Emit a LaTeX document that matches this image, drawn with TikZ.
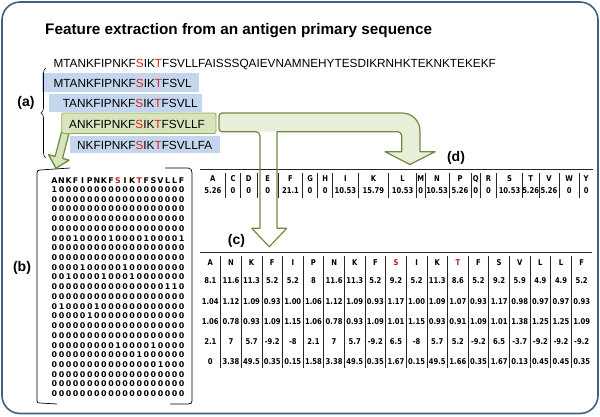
\documentclass[tikz,border=0pt]{standalone}
\usepackage{fontspec}
\setmainfont{Liberation Sans}
\newfontfamily\tabfont{DejaVu Sans}[FakeStretch=0.85]
\newfontfamily\matfont{DejaVu Sans}
\usetikzlibrary{decorations.pathreplacing}
\definecolor{framec}{HTML}{3F5F80}
\definecolor{rowblue}{HTML}{C3D6EE}
\definecolor{wingreen}{HTML}{D7E4BD}
\definecolor{winedge}{HTML}{8FAE52}
\definecolor{arrfill}{HTML}{E8EED9}
\definecolor{arredge}{HTML}{6E8B3D}
\definecolor{seqred}{HTML}{E0201B}
\definecolor{tabred}{HTML}{B22222}
\newcommand\matcw{7.07pt}
\newcommand\mrow[1]{\mrowa#1\relax}
\def\mrowa#1{\ifx\relax#1\else\makebox[\matcw]{#1}\expandafter\mrowa\fi}
\begin{document}
\begin{tikzpicture}[x=1pt,y=-1pt,
  seqtxt/.style={font=\fontsize{11.8}{12}\selectfont, inner sep=0, anchor=base west},
  lbl/.style={font=\bfseries\fontsize{14}{14}\selectfont, inner sep=0},
  tabtxt/.style={font=\tabfont\bfseries\fontsize{8}{8}\selectfont, inner sep=0, anchor=base},
  mattxt/.style={font=\matfont\bfseries\fontsize{7.9}{8}\selectfont, inner sep=0, anchor=base west},
  tabline/.style={draw=black!85, line width=0.7pt},
  bigarrow/.style={draw=arredge, line width=1.2pt, line join=round}]
\useasboundingbox (0,0) rectangle (600,416);
\draw[framec, line width=1.6pt, rounded corners=18pt] (2,2) rectangle (598,413.5);

\node[anchor=base west, inner sep=0, font=\bfseries\fontsize{15.3}{16}\selectfont] (title) at (45,34) {Feature extraction from an antigen primary sequence};

\node[seqtxt] (seq) at (53.3,67.5) {MTANKFIPNKF\textcolor{seqred}{S}IK\textcolor{seqred}{T}FSVLLFAISSSQAIEVNAMNEHYTESDIKRNHKTEKNKTEKEKF};

% (b) arrow
\draw[bigarrow, fill=wingreen] (61.5,132) -- (55.1,156.5) -- (48.7,154.8) -- (55.9,168.1) -- (68.9,160.2) -- (62.5,158.5) -- (68.9,134) -- cycle;

% window rows
\fill[rowblue] (41.7,73) rectangle (199,92);
\fill[rowblue] (49,93.5) rectangle (202,112);
\draw[winedge, fill=wingreen, line width=0.8pt, rounded corners=1.5pt] (61.7,113) rectangle (216,133.5);
\fill[rowblue] (70,136) rectangle (220,153);
\node[seqtxt] (w1) at (53.3,87.5) {MTANKFIPNKF\textcolor{seqred}{S}IK\textcolor{seqred}{T}FSVL};
\node[seqtxt] (w2) at (62.7,107.2) {TANKFIPNKF\textcolor{seqred}{S}IK\textcolor{seqred}{T}FSVLL};
\node[seqtxt] (w3) at (69,128.2) {ANKFIPNKF\textcolor{seqred}{S}IK\textcolor{seqred}{T}FSVLLF};
\node[seqtxt] (w4) at (77,149.2) {NKFIPNKF\textcolor{seqred}{S}IK\textcolor{seqred}{T}FSVLLFA};

\draw[decorate, decoration={brace, amplitude=5pt}, line width=0.6pt] (46,158) -- (46,68);

\node[lbl] (la) at (26,103) {(a)};
\node[lbl] (lb) at (22,268) {(b)};
\node[lbl] (lc) at (236.5,240.5) {(c)};
\node[lbl] (ld) at (456,157.5) {(d)};

% (b) matrix
\draw[line width=0.7pt] (70,168) -- (40,170) .. controls (38,170) and (37,171) .. (37,173) -- (37,401) .. controls (37,402.5) and (38,403) .. (40,403) -- (57,404);
\draw[line width=0.7pt] (165,168) -- (188,168) .. controls (191,168) and (192,170) .. (192,173) -- (192,401) .. controls (192,403) and (191,404) .. (188,404) -- (170,404);
% redraw arrow head over bracket
\draw[bigarrow, fill=wingreen] (55.1,156.5) -- (48.7,154.8) -- (55.9,168.1) -- (68.9,160.2) -- (62.5,158.5);
\node[mattxt] (mh) at (50.7,183.2) {\mrow{ANKFIPNKF}\makebox[\matcw]{\textcolor{tabred}{S}}\mrow{IK}\makebox[\matcw]{\textcolor{tabred}{T}}\mrow{FSVLLF}};
\foreach \mr [count=\i] in {1000000000000000000,0000000000000000000,0000000000000000000,0000000000000000000,0000000000000000000,0001000010000100001,0000000000000000000,0000000000000000000,0000100000100000000,0010000100010000000,0000000000000000110,0000000000000000000,0100001000000000000,0000010000000000000,0000000000000000000,0000000000000000000,0000000001000010000,0000000000001000000,0000000000000001000,0000000000000000000,0000000000000000000,0000000000000000000}
  \node[mattxt] (mr\i) at (50.7,{192.5+9.72*(\i-1)}) {\expandafter\mrow\expandafter{\mr}};

% (d) table
\draw[tabline] (200,169.3) -- (593,169.3);
\foreach \s in {225.7,240.5,257,278.5,302.5,317.7,332.7,358,388.8,416.5,425,449,471,480.3,496.7,522.3,539,559,579.3}
  \draw[tabline] (\s,173) -- (\s,197.5);
\foreach \l/\rr/\h/\v [count=\i] in {200/225.7/A/5.26, 225.7/240.5/C/0, 240.5/257/D/0, 257/278.5/E/0, 278.5/302.5/F/21.1, 302.5/317.7/G/0, 317.7/332.7/H/0, 332.7/358/I/10.53, 358/388.8/K/15.79, 388.8/416.5/L/10.53, 416.5/425/M/0, 425/449/N/10.53, 449/471/P/5.26, 471/480.3/Q/0, 480.3/496.7/R/0, 496.7/522.3/S/10.53, 522.3/539/T/5.26, 539/559/V/5.26, 559/579.3/W/0, 579.3/593/Y/0}
{
  \node[tabtxt] (dh\i) at ({(\l+\rr)/2},181.2) {\h};
  \node[tabtxt] (dv\i) at ({(\l+\rr)/2},193.9) {\v};
}

% (c) table
\draw[tabline] (200,252.7) -- (592,252.7);
\foreach \k in {1,...,18}
  \draw[tabline] ({200+20.63*\k},256) -- ({200+20.63*\k},368);
\foreach \h [count=\i] in {A,N,K,F,I,P,N,K,F,{\textcolor{tabred}{S}},I,K,{\textcolor{tabred}{T}},F,S,V,L,L,F}
  \node[tabtxt] (ch\i) at ({200+20.63*(\i-0.5)},265.3) {\h};
\foreach \v [count=\i] in {8.1,11.6,11.3,5.2,5.2,8,11.6,11.3,5.2,9.2,5.2,11.3,8.6,5.2,9.2,5.9,4.9,4.9,5.2}
  \node[tabtxt] (ca\i) at ({200+20.63*(\i-0.5)},283.9) {\v};
\foreach \v [count=\i] in {1.04,1.12,1.09,0.93,1.00,1.06,1.12,1.09,0.93,1.17,1.00,1.09,1.07,0.93,1.17,0.98,0.97,0.97,0.93}
  \node[tabtxt] (cb\i) at ({200+20.63*(\i-0.5)},304.2) {\v};
\foreach \v [count=\i] in {1.06,0.78,0.93,1.09,1.15,1.06,0.78,0.93,1.09,1.01,1.15,0.93,0.91,1.09,1.01,1.38,1.25,1.25,1.09}
  \node[tabtxt] (cc\i) at ({200+20.63*(\i-0.5)},324.2) {\v};
\foreach \v [count=\i] in {2.1,7,5.7,-9.2,-8,2.1,7,5.7,-9.2,6.5,-8,5.7,5.2,-9.2,6.5,-3.7,-9.2,-9.2,-9.2}
  \node[tabtxt] (cd\i) at ({200+20.63*(\i-0.5)},344.2) {\v};
\foreach \v [count=\i] in {0,3.38,49.5,0.35,0.15,1.58,3.38,49.5,0.35,1.67,0.15,49.5,1.66,0.35,1.67,0.13,0.45,0.45,0.35}
  \node[tabtxt] (ce\i) at ({200+20.63*(\i-0.5)},364.2) {\v};

% big arrow: band to (d) and shaft to (c)
\fill[arrfill] (222,113) -- (402,113) .. controls (412,113) and (420,121) .. (420,131) -- (420,151.7) -- (435,151.7) -- (410,164.5) -- (385,151.7) -- (401.7,151.7) -- (401.7,135.7) .. controls (401.7,133.5) and (399.9,131.7) .. (397.7,131.7) -- (222,131.7) .. controls (220.3,131.7) and (219,130.4) .. (219,128.7) -- (219,116) .. controls (219,114.3) and (220.3,113) .. (222,113) -- cycle;
\draw[bigarrow] (277,131.7) -- (397.7,131.7) .. controls (399.9,131.7) and (401.7,133.5) .. (401.7,135.7) -- (401.7,151.7) -- (385,151.7) -- (410,164.5) -- (435,151.7) -- (420,151.7) -- (420,131) .. controls (420,121) and (412,113) .. (402,113) -- (222,113) .. controls (220.3,113) and (219,114.3) .. (219,116) -- (219,128.7) .. controls (219,130.4) and (220.3,131.7) .. (222,131.7) -- (256,131.7) .. controls (258.2,131.7) and (260,133.5) .. (260,135.7) -- (260,228.3) -- (251.7,228.3) -- (269.3,246.7) -- (286.7,228.3) -- (277,228.3) -- cycle;
\end{tikzpicture}
\end{document}
